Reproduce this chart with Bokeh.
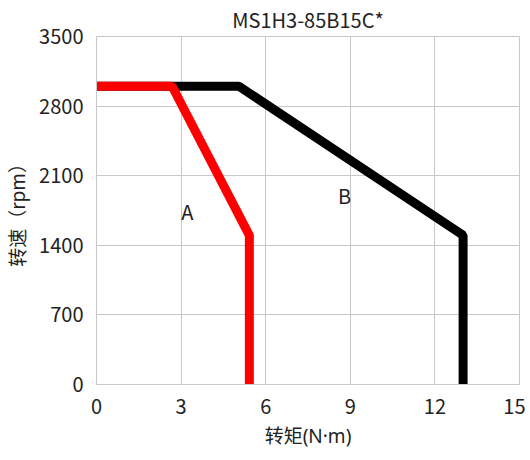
from bokeh.plotting import figure
from bokeh.models import FixedTicker, Range1d
from bokeh.core.properties import value
from bokeh.embed import file_html
from bokeh.resources import INLINE

title = "MS1H3-85B15C*"
x_label = "转矩(N·m)"
y_label = "转速（rpm）"
x_ticks = [0, 3, 6, 9, 12, 15]
y_ticks = [0, 700, 1400, 2100, 2800, 3500]

# curve B (black)
b_torque = [0, 5.05, 13.0, 13.0]
b_speed = [3000, 3000, 1500, 0]
# curve A (red)
a_torque = [0, 2.68, 5.42, 5.42]
a_speed = [3000, 3000, 1500, 0]

labels = ["A", "B"]
label_x = [3.22, 8.8]
label_y = [1740, 1900]

FONT = "Noto Sans CJK SC"
LABEL_FONT = "'Noto Sans', 'Noto Sans CJK SC'"

p = figure(frame_width=423, frame_height=348, output_backend="svg", toolbar_location=None,
           x_range=Range1d(0, 15), y_range=Range1d(0, 3500),
           min_border_left=89, min_border_right=6, min_border_top=30, min_border_bottom=60)
p.title.text = title
p.title.align = "center"
p.title.text_font = FONT
p.title.text_font_size = "20px"
p.title.text_font_style = "normal"
p.title.text_color = "#222222"
p.title.standoff = 5

p.xaxis.ticker = FixedTicker(ticks=x_ticks)
p.yaxis.ticker = FixedTicker(ticks=y_ticks)
for ax in (p.xaxis[0], p.yaxis[0]):
    ax.major_label_text_font = FONT
    ax.major_label_text_font_size = "20px"
    ax.major_label_text_color = "#222222"
    ax.axis_label_text_font = FONT
    ax.axis_label_text_font_size = "19px"
    ax.axis_label_text_font_style = "normal"
    ax.axis_label_text_color = "#222222"
    ax.axis_line_color = "#c8c8c8"
    ax.major_tick_line_color = None
    ax.minor_tick_line_color = None
p.xaxis.axis_label = x_label
p.xaxis.axis_label_text_font = LABEL_FONT
p.yaxis.axis_label = y_label
p.xaxis.major_label_standoff = 8
p.yaxis.major_label_standoff = 7
p.xaxis.axis_label_standoff = 6
p.yaxis.axis_label_standoff = 6

p.grid.grid_line_color = "#c8c8c8"
p.grid.grid_line_width = 1
p.outline_line_color = "#c8c8c8"

p.line(b_torque, b_speed, line_color="black", line_width=9)
p.line(a_torque, a_speed, line_color="#ff0000", line_width=9)

p.text(label_x, label_y, text=labels, text_font=value(FONT), text_font_size="20px",
       text_align="center", text_baseline="middle", text_color="#222222")

open("out.html", "w").write(file_html(p, INLINE))
